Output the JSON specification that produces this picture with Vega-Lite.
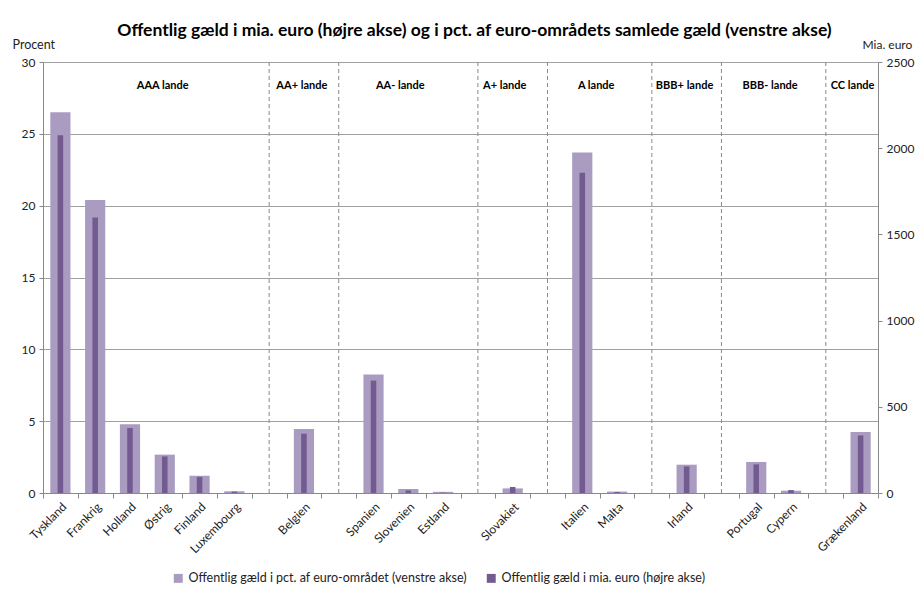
{
  "$schema": "https://vega.github.io/schema/vega-lite/v6.json",
  "width": 835,
  "height": 431,
  "padding": {"left": 12, "top": 22, "right": 10, "bottom": 5},
  "background": "white",
  "config": {
    "font": "Lato",
    "view": {"stroke": null},
    "axis": {"labelColor": "#222", "titleColor": "#222", "titleFontWeight": "normal", "domainColor": "#888", "tickColor": "#888", "gridColor": "#a0a0a0"}
  },
  "title": {
    "text": "Offentlig gæld i mia. euro (højre akse) og i pct. af euro-områdets samlede gæld (venstre akse)",
    "fontSize": 17.5,
    "fontWeight": "bold",
    "color": "#000",
    "anchor": "middle",
    "offset": -1.5,
    "dx": 14
  },
  "datasets": {
    "lande": [
      {"land": "Tyskland", "pct": 26.5, "mia": 2075},
      {"land": "Frankrig", "pct": 20.4, "mia": 1598},
      {"land": "Holland", "pct": 4.78, "mia": 377},
      {"land": "Østrig", "pct": 2.67, "mia": 212},
      {"land": "Finland", "pct": 1.2, "mia": 93},
      {"land": "Luxembourg", "pct": 0.12, "mia": 8},
      {"land": "Belgien", "pct": 4.46, "mia": 344},
      {"land": "Spanien", "pct": 8.24, "mia": 652},
      {"land": "Slovenien", "pct": 0.28, "mia": 15},
      {"land": "Estland", "pct": 0.08, "mia": 2},
      {"land": "Slovakiet", "pct": 0.32, "mia": 35},
      {"land": "Italien", "pct": 23.7, "mia": 1857},
      {"land": "Malta", "pct": 0.1, "mia": 6},
      {"land": "Irland", "pct": 1.97, "mia": 154},
      {"land": "Portugal", "pct": 2.16, "mia": 166},
      {"land": "Cypern", "pct": 0.16, "mia": 17},
      {"land": "Grækenland", "pct": 4.25, "mia": 334}
    ],
    "skel": [
      {"land": " "}, {"land": "  "}, {"land": "   "}, {"land": "    "},
      {"land": "     "}, {"land": "      "}, {"land": "       "}
    ],
    "grupper": [
      {"gruppe": "AAA lande", "land": "Østrig"},
      {"gruppe": "AA+ lande", "land": "Belgien"},
      {"gruppe": "AA- lande", "land": "Slovenien"},
      {"gruppe": "A+ lande", "land": "Slovakiet"},
      {"gruppe": "A lande", "land": "Italien"},
      {"gruppe": "BBB+ lande", "land": "Irland"},
      {"gruppe": "BBB- lande", "land": "Portugal"},
      {"gruppe": "CC lande", "land": "Grækenland"}
    ]
  },
  "layer": [
    {
      "layer": [
        {
          "data": {"name": "lande"},
          "mark": {"type": "bar", "width": {"band": 0.58}},
          "encoding": {
            "x": {
              "field": "land",
              "type": "nominal",
              "scale": {
                "domain": ["Tyskland", "Frankrig", "Holland", "Østrig", "Finland", "Luxembourg", " ", "Belgien", "  ", "Spanien", "Slovenien", "Estland", "   ", "Slovakiet", "    ", "Italien", "Malta", "     ", "Irland", "      ", "Portugal", "Cypern", "       ", "Grækenland"],
                "paddingInner": 0,
                "paddingOuter": 0
              },
              "axis": {
                "title": null,
                "labelAngle": -45,
                "labelFontSize": 12,
                "labelPadding": 3,
                "tickBand": "extent",
                "tickSize": 5
              }
            },
            "y": {
              "field": "pct",
              "type": "quantitative",
              "scale": {"domain": [0, 30], "nice": false},
              "axis": {
                "title": "Procent",
                "values": [0, 5, 10, 15, 20, 25, 30],
                "grid": true,
                "labelFontSize": 12,
                "tickSize": 4,
                "labelPadding": 4,
                "titleAngle": 0,
                "titleAlign": "left",
                "titleBaseline": "middle",
                "titleX": -31,
                "titleY": -18,
                "titleFontSize": 12.5
              }
            },
            "color": {
              "datum": "Offentlig gæld i pct. af euro-området (venstre akse)",
              "type": "nominal",
              "scale": {
                "domain": ["Offentlig gæld i pct. af euro-området (venstre akse)", "Offentlig gæld i mia. euro (højre akse)"],
                "range": ["#a99cc0", "#735b92"]
              },
              "legend": {
                "title": null,
                "orient": "none",
                "direction": "horizontal",
                "legendX": 129,
                "legendY": 510,
                "symbolType": "square",
                "symbolSize": 80,
                "symbolStrokeWidth": 0,
                "labelFontSize": 12.5,
                "labelColor": "#222",
                "labelLimit": 500,
                "columnPadding": 18
              }
            }
          }
        },
        {
          "data": {"name": "skel"},
          "mark": {"type": "rule", "color": "#888", "strokeDash": [4, 3], "strokeWidth": 1},
          "encoding": {
            "x": {"field": "land", "type": "nominal"}
          }
        },
        {
          "data": {"name": "grupper"},
          "transform": [{"filter": {"field": "gruppe", "oneOf": ["AA- lande", "A+ lande", "CC lande"]}}],
          "mark": {"type": "text", "fontWeight": "bold", "fontSize": 11, "color": "#000", "baseline": "middle"},
          "encoding": {
            "x": {"field": "land", "type": "nominal", "bandPosition": 0.27},
            "y": {"datum": 28.3, "type": "quantitative"},
            "text": {"field": "gruppe"}
          }
        },
        {
          "data": {"name": "grupper"},
          "transform": [{"filter": {"field": "gruppe", "oneOf": ["AAA lande", "AA+ lande", "BBB+ lande"]}}],
          "mark": {"type": "text", "fontWeight": "bold", "fontSize": 11, "color": "#000", "baseline": "middle"},
          "encoding": {
            "x": {"field": "land", "type": "nominal", "bandPosition": 0.44},
            "y": {"datum": 28.3, "type": "quantitative"},
            "text": {"field": "gruppe"}
          }
        },
        {
          "data": {"name": "grupper"},
          "transform": [{"filter": {"field": "gruppe", "oneOf": ["A lande", "BBB- lande"]}}],
          "mark": {"type": "text", "fontWeight": "bold", "fontSize": 11, "color": "#000", "baseline": "middle"},
          "encoding": {
            "x": {"field": "land", "type": "nominal", "bandPosition": 0.9},
            "y": {"datum": 28.3, "type": "quantitative"},
            "text": {"field": "gruppe"}
          }
        }
      ]
    },
    {
      "data": {"name": "lande"},
      "mark": {"type": "bar", "width": {"band": 0.16}},
      "encoding": {
        "x": {"field": "land", "type": "nominal"},
        "y": {
          "field": "mia",
          "type": "quantitative",
          "scale": {"domain": [0, 2500], "nice": false},
          "axis": {
            "orient": "right",
            "title": "Mia. euro",
            "values": [0, 500, 1000, 1500, 2000, 2500],
            "format": "d",
            "grid": false,
            "labelFontSize": 12,
            "tickSize": 4,
            "labelPadding": 4,
            "titleAngle": 0,
            "titleAlign": "left",
            "titleBaseline": "middle",
            "titleX": -16,
            "titleY": -18,
            "titleFontSize": 12
          }
        },
        "color": {"datum": "Offentlig gæld i mia. euro (højre akse)", "type": "nominal"}
      }
    }
  ],
  "resolve": {"scale": {"y": "independent"}}
}
